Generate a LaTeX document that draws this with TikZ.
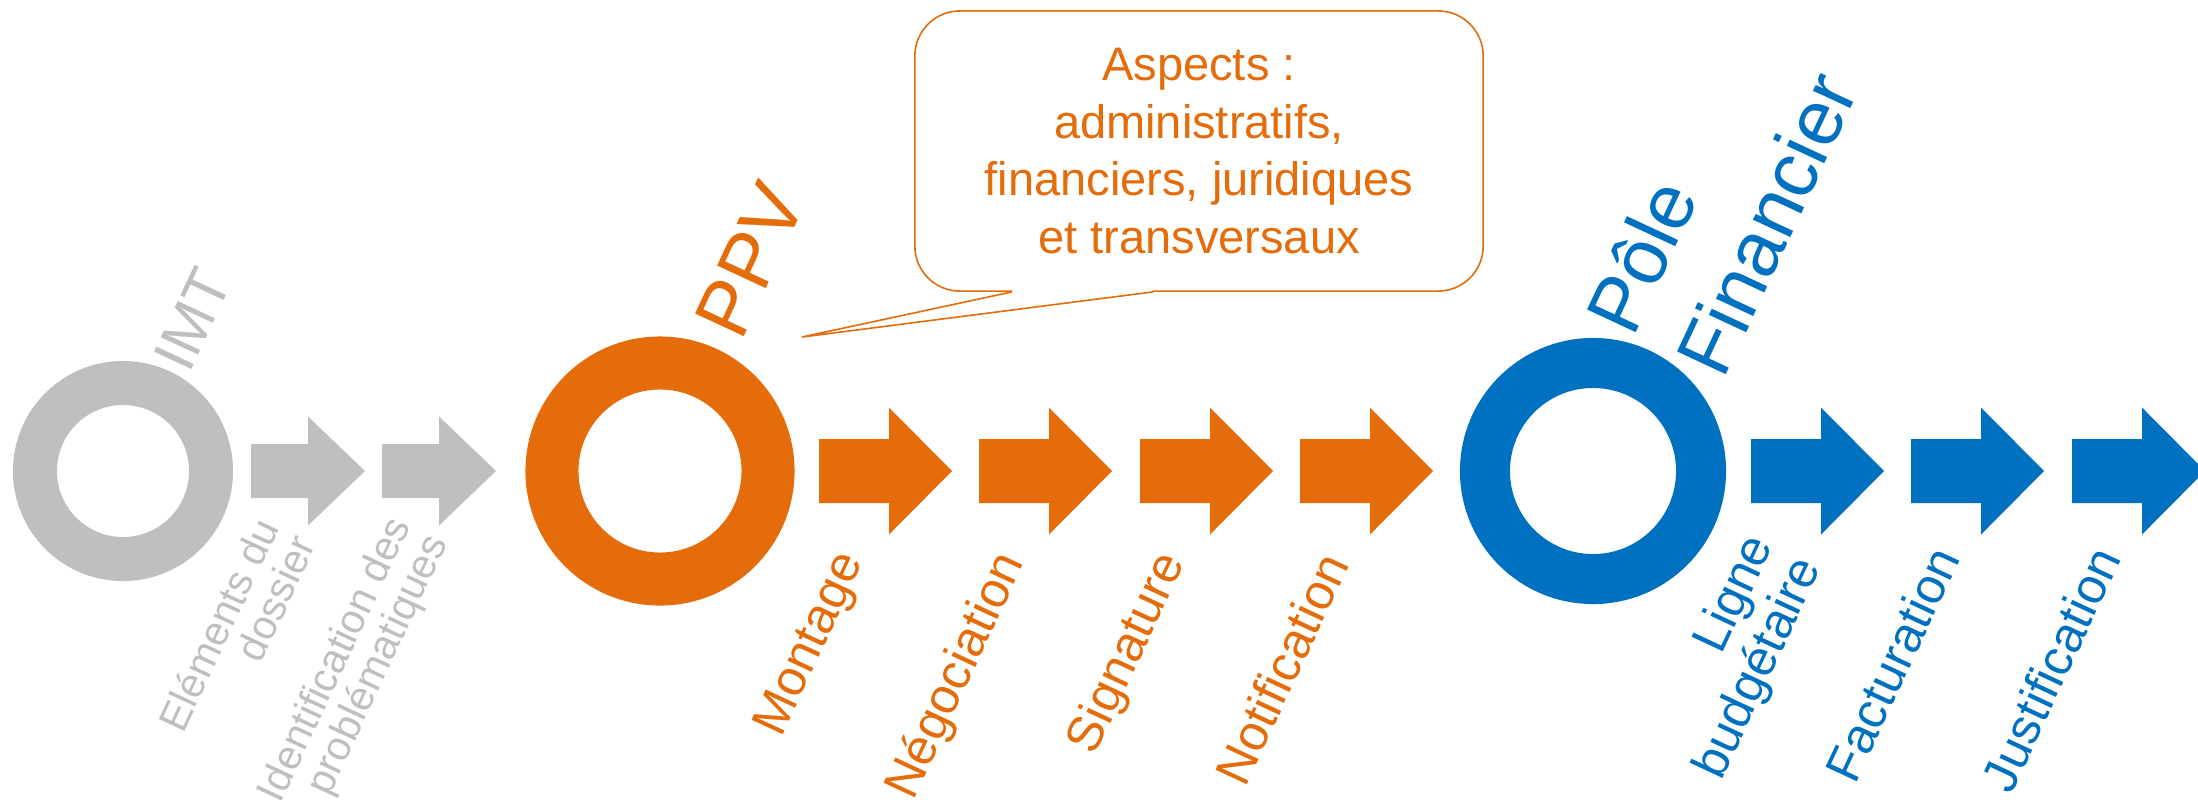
\documentclass[tikz,border=0pt]{standalone}
\usepackage{fontspec}
\setmainfont{Liberation Sans}
\usetikzlibrary{calc}
\definecolor{cgray}{RGB}{191,191,191}
\definecolor{corange}{RGB}{228,108,10}
\definecolor{cblue}{RGB}{0,112,192}
\newcommand\fsz[2]{\fontsize{#1}{#2}\selectfont}
\begin{document}
\begin{tikzpicture}[x=0.01cm,y=-0.01cm,
  ringnode/.style={circle, draw=#1, inner sep=0pt},
  lab/.style={inner sep=0pt, rotate=65},
  lowlab/.style={lab, anchor=east, align=right},
  graylow/.style={lowlab, text=cgray, font=\fsz{11.67pt}{11.6pt}},
  collow/.style={lowlab, text=#1, font=\fsz{14.23pt}{15pt}},
  toplab/.style={lab, anchor=center, align=left, text=#1},
  bubblebox/.style={draw=corange, line width=0.016cm, rounded corners=0.45cm,
    minimum width=5.68cm, minimum height=2.80cm, inner sep=0pt, align=center,
    text=corange, font=\fsz{13.37pt}{16.42pt}},
]
\useasboundingbox (0,0) rectangle (2198,799);
\clip (0,0) rectangle (2198,799);

% rings
\node[ringnode=cgray, minimum size=1.76cm, line width=0.44cm] (imt) at (123,471) {};
\node[ringnode=corange, minimum size=2.16cm, line width=0.53cm] (ppv) at (660,471) {};
\node[ringnode=cblue, minimum size=2.16cm, line width=0.50cm] (pf) at (1593,471) {};

% gray arrows
\foreach \L in {251,382}{
  \fill[cgray] (\L,444) -- ++(57,0) -- ++(0,-27.5) -- ++(57,54.5) -- ++(-57,54.5)
    -- ++(0,-27.5) -- ++(-57,0) -- cycle;
}
% orange arrows
\foreach \L in {819,979,1140,1300}{
  \fill[corange] (\L,439) -- ++(70,0) -- ++(0,-31.5) -- ++(63,63.5) -- ++(-63,63.5)
    -- ++(0,-31.5) -- ++(-70,0) -- cycle;
}
% blue arrows
\foreach \L in {1751,1911,2072}{
  \fill[cblue] (\L,439) -- ++(70,0) -- ++(0,-31.5) -- ++(63,63.5) -- ++(-63,63.5)
    -- ++(0,-31.5) -- ++(-70,0) -- cycle;
}

% upper labels
\node[toplab=cgray, font=\fsz{17pt}{17pt}] (timt) at (193,319) {IMT};
\node[toplab=corange, font=\fsz{22.2pt}{22.2pt}] (tppv) at (750,260) {PPV};
\node[toplab=cblue, font=\fsz{22.2pt}{28.4pt}] (tpf) at (1721,202) {Pôle\\Financier};

% lower labels
\node[graylow] (g1) at (285,529) {Eléments du\\dossier};
\node[graylow] (g2) at (420,529) {Identification des\\problématiques};
\node[collow=corange] (o1) at (853,556) {Montage};
\node[collow=corange] (o2) at (1013,556) {Négociation};
\node[collow=corange] (o3) at (1174,556) {Signature};
\node[collow=corange] (o4) at (1334,556) {Notification};
\node[collow=cblue] (b1) at (1786,550) {Ligne\\budgétaire};
\node[collow=cblue] (b2) at (1945,550) {Facturation};
\node[collow=cblue] (b3) at (2106,550) {Justification};

% callout
\node[bubblebox, fill=white] (bubble) at (1199,151) {Aspects :\\administratifs,\\financiers, juridiques\\et transversaux};
\coordinate (tip) at (802,337);
\fill[white] ($(bubble.south)+(-186,-2)$) -- ($(bubble.south)+(-187,0)$) -- (tip)
  -- ($(bubble.south)+(-46,0)$) -- ($(bubble.south)+(-47,-2)$) -- cycle;
\draw[corange, line width=0.016cm] ($(bubble.south)+(-187,0)$) -- (tip) -- ($(bubble.south)+(-46,0)$);
\end{tikzpicture}
\end{document}
